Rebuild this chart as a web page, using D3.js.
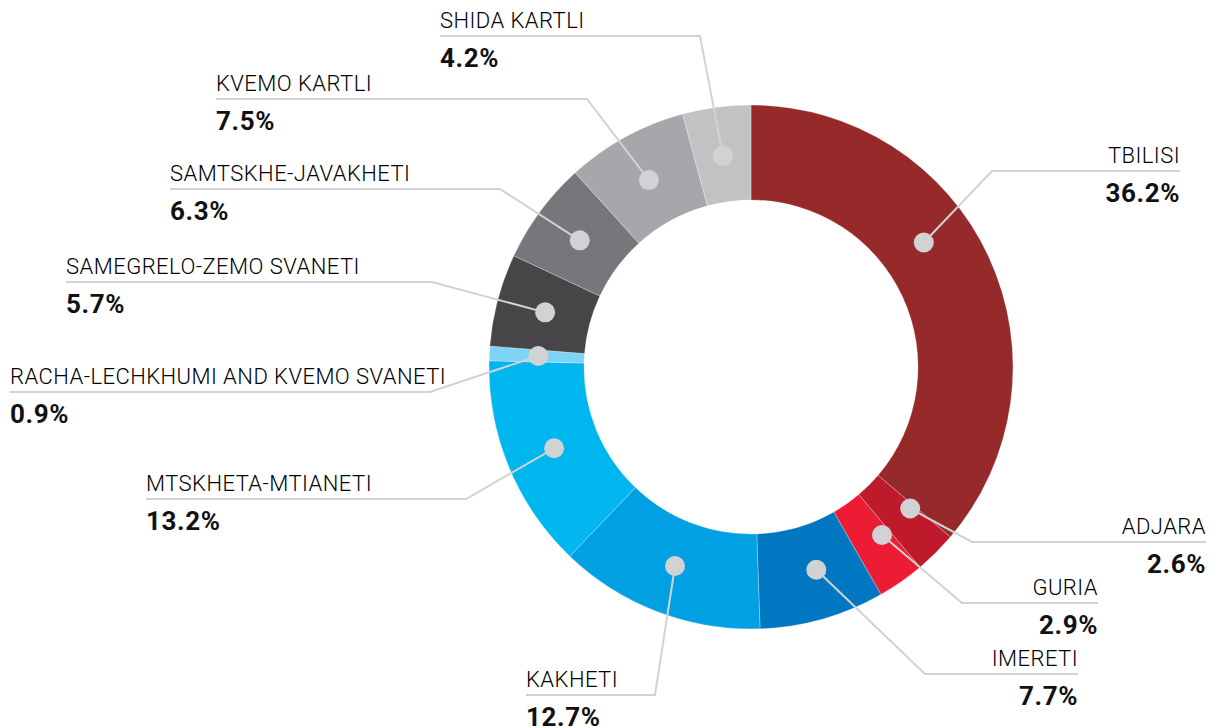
<!DOCTYPE html>
<html>
<head>
<meta charset="utf-8">
<script src="https://cdn.jsdelivr.net/npm/d3@7"></script>
<style>
  html, body { margin: 0; padding: 0; background: #fff; }
  svg { display: block; }
  .name { font-family: Roboto, sans-serif; font-weight: 300; font-size: 22px; fill: #000; letter-spacing: 0.45px; }
  .pct { font-family: Roboto, sans-serif; font-weight: 700; font-size: 26px; fill: #111; letter-spacing: 0.6px; }
</style>
</head>
<body>
<div id="chart"></div>
<script>
// Regions in drawing order, clockwise from 12 o'clock
const regions = [
  "TBILISI", "ADJARA", "GURIA", "IMERETI", "KAKHETI", "MTSKHETA-MTIANETI",
  "RACHA-LECHKHUMI AND KVEMO SVANETI", "SAMEGRELO-ZEMO SVANETI",
  "SAMTSKHE-JAVAKHETI", "KVEMO KARTLI", "SHIDA KARTLI"
]
const shares = [36.2, 2.6, 2.9, 7.7, 12.7, 13.2, 0.9, 5.7, 6.3, 7.5, 4.2]
const colors = [
  "#962a2b", "#be1a2c", "#ec1c34", "#0077c0", "#00a0e2", "#00b6ef",
  "#7fd3f7", "#464648", "#76777a", "#a6a7aa", "#c1c2c4"
]

// Label placement: text anchor x, underline y, elbow x (where the leader meets the underline),
// text side, and a small angular nudge (deg) for the dot
const labelLayout = [
  { x: 1180, y: 171, elbow: 992, side: "right", nudge: -11 },
  { x: 1206, y: 542, elbow: 972, side: "right", nudge: -3.5 },
  { x: 1098, y: 603, elbow: 962, side: "right", nudge: -3 },
  { x: 1078, y: 674, elbow: 925, side: "right", nudge: -2 },
  { x: 526, y: 695, elbow: 655, side: "left", nudge: 0 },
  { x: 146, y: 499, elbow: 466, side: "left", nudge: 0 },
  { x: 10, y: 392, elbow: 430, side: "left", nudge: 0 },
  { x: 66, y: 282, elbow: 432, side: "left", nudge: 0 },
  { x: 170, y: 189, elbow: 500, side: "left", nudge: 0 },
  { x: 216, y: 99, elbow: 587, side: "left", nudge: 0 },
  { x: 440, y: 36, elbow: 700, side: "left", nudge: 0 }
]

const width = 1214, height = 727
const cx = 751, cy = 367
const outerR = 262, innerR = 167
const dotR = 213
const GREY = "#d1d2d4"

const svg = d3.select("#chart").append("svg")
  .attr("width", width).attr("height", height)

const data = regions.map((name, i) => ({ name, value: shares[i], color: colors[i], lab: labelLayout[i] }))

const pie = d3.pie().sort(null).value(d => d.value)
const arc = d3.arc().innerRadius(innerR).outerRadius(outerR)
const arcs = pie(data)

const g = svg.append("g").attr("transform", `translate(${cx},${cy})`)

g.selectAll("path.slice")
  .data(arcs)
  .join("path")
  .attr("class", "slice")
  .attr("d", arc)
  .attr("fill", d => d.data.color)
  .attr("stroke", "rgba(255,255,255,0.45)")
  .attr("stroke-width", 0.6)

// dot position on the ring for each slice
function dotPoint(d) {
  const a = (d.startAngle + d.endAngle) / 2 + d.data.lab.nudge * Math.PI / 180
  return [cx + dotR * Math.sin(a), cy - dotR * Math.cos(a)]
}

const labels = svg.append("g")

arcs.forEach(d => {
  const lab = d.data.lab
  const [dx, dy] = dotPoint(d)
  // underline + leader
  labels.append("path")
    .attr("d", `M${lab.x},${lab.y}L${lab.elbow},${lab.y}L${dx},${dy}`)
    .attr("fill", "none")
    .attr("stroke", GREY)
    .attr("stroke-width", 2)

  labels.append("circle")
    .attr("cx", dx).attr("cy", dy).attr("r", 10)
    .attr("fill", GREY)

  const anchor = lab.side === "right" ? "end" : "start"
  labels.append("text")
    .attr("class", "name")
    .attr("x", lab.x).attr("y", lab.y - 8)
    .attr("text-anchor", anchor)
    .text(d.data.name)

  labels.append("text")
    .attr("class", "pct")
    .attr("x", lab.x).attr("y", lab.y + 31)
    .attr("text-anchor", anchor)
    .text(d3.format(".1f")(d.data.value) + "%")
})
</script>
</body>
</html>
